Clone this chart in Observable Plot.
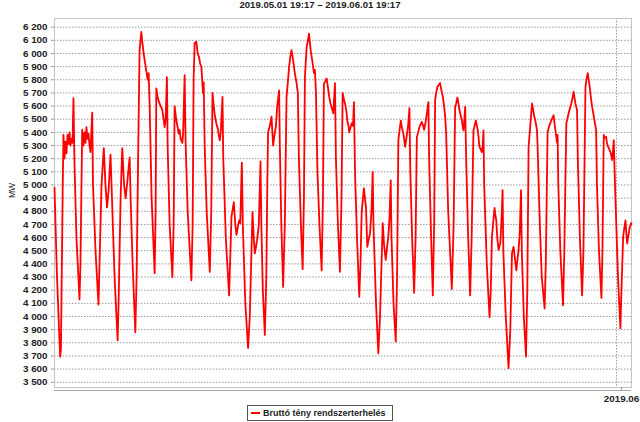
<!DOCTYPE html>
<html><head><meta charset="utf-8">
<script src="https://cdn.jsdelivr.net/npm/d3@7"></script>
<script src="https://cdn.jsdelivr.net/npm/@observablehq/plot@0.6"></script>
<style>
body{margin:0;background:#fff;width:640px;height:422px;overflow:hidden;font-family:"Liberation Sans",Arial,sans-serif;}
#title{height:10px;line-height:10px;font-weight:bold;font-size:9.6px;text-align:center;color:#222;white-space:nowrap;}
#chart svg{display:block;}
#legend{position:relative;margin-left:247px;width:146px;height:16px;border:1px solid #555;box-sizing:border-box;}
#legend .sw{position:absolute;left:3px;top:6px;width:9px;height:2px;background:#ff0000;}
#legend .tx{position:absolute;left:15px;top:2px;font-weight:bold;font-size:9px;line-height:10px;color:#222;white-space:nowrap;}
</style>
</head><body>
<div id="title"></div>
<div id="chart"></div>
<div id="legend"><span class="sw"></span><span class="tx"></span></div>
<script>
const titleText = "2019.05.01 19:17 – 2019.06.01 19:17";
const seriesName = "Bruttó tény rendszerterhelés";
const yLabel = "MW";
const startStamp = "05-01 19:17";
const endStamp = "06-01 19:17";
const xTickStamps = ["06-01 00:00"];
const xTickLabels = ["2019.06"];
const yTicks = [3500,3600,3700,3800,3900,4000,4100,4200,4300,4400,4500,4600,4700,4800,4900,5000,5100,5200,5300,5400,5500,5600,5700,5800,5900,6000,6100,6200];

const stamps = [
"05-01 19:17","05-01 22:30",
"05-02 02:35","05-02 03:35","05-02 05:55","05-02 06:50","05-02 08:10","05-02 09:25","05-02 10:45","05-02 12:00","05-02 13:20","05-02 14:35","05-02 15:55","05-02 17:10","05-02 18:30","05-02 19:45","05-02 21:05","05-02 23:35",
"05-03 03:30","05-03 04:45","05-03 07:00","05-03 08:40","05-03 09:55","05-03 11:15","05-03 12:30","05-03 13:50","05-03 15:05","05-03 16:25","05-03 17:40","05-03 19:55","05-03 20:55",
"05-04 00:10","05-04 04:00","05-04 05:20","05-04 07:55","05-04 10:50","05-04 13:00","05-04 15:00","05-04 16:55","05-04 19:30","05-04 20:50",
"05-05 00:45","05-05 04:40","05-05 05:55","05-05 08:30","05-05 10:40","05-05 13:00","05-05 15:00","05-05 17:35","05-05 20:10","05-05 21:25",
"05-06 00:00","05-06 03:30","05-06 05:10","05-06 07:45","05-06 09:00","05-06 11:15","05-06 12:15","05-06 14:15","05-06 15:30","05-06 16:50","05-06 18:05","05-06 19:25","05-06 20:40","05-06 22:00",
"05-07 00:30","05-07 04:25","05-07 05:40","05-07 06:35","05-07 08:15","05-07 09:35","05-07 10:50","05-07 12:10","05-07 14:20","05-07 16:00","05-07 17:20","05-07 18:35","05-07 20:15","05-07 21:10","05-07 23:45",
"05-08 03:15","05-08 04:55","05-08 06:10","05-08 08:25","05-08 10:05","05-08 11:20","05-08 12:40","05-08 13:55","05-08 16:10","05-08 17:10","05-08 19:05","05-08 20:25","05-08 23:00",
"05-09 03:45","05-09 05:25","05-09 06:40","05-09 08:00","05-09 10:10","05-09 11:55","05-09 13:35","05-09 15:10","05-09 16:40","05-09 17:40","05-09 18:45","05-09 19:40","05-09 20:55","05-09 23:30",
"05-10 03:30","05-10 05:25","05-10 07:00","05-10 08:40","05-10 09:55","05-10 11:55","05-10 14:10","05-10 15:05","05-10 16:25","05-10 17:40","05-10 19:55","05-10 20:55",
"05-11 00:10","05-11 04:25","05-11 05:55","05-11 07:30","05-11 10:30","05-11 12:25","05-11 13:55","05-11 15:40","05-11 17:20","05-11 18:50","05-11 20:50","05-11 22:05",
"05-12 01:20","05-12 04:55","05-12 07:05","05-12 10:35","05-12 12:15","05-12 13:35","05-12 14:50","05-12 16:30","05-12 18:45","05-12 20:55","05-12 22:00","05-12 23:55",
"05-13 02:30","05-13 04:25","05-13 05:40","05-13 06:40","05-13 08:55","05-13 11:05","05-13 13:10","05-13 15:25","05-13 16:40","05-13 18:20","05-13 20:55","05-13 21:50","05-13 23:45",
"05-14 02:05","05-14 04:15","05-14 06:30","05-14 08:10","05-14 09:50","05-14 11:25","05-14 12:55","05-14 15:00","05-14 17:10","05-14 19:25","05-14 21:05","05-14 22:25",
"05-15 01:00","05-15 03:15","05-15 04:55","05-15 06:10","05-15 08:25","05-15 10:05","05-15 11:25","05-15 13:35","05-15 16:10","05-15 17:50","05-15 19:05","05-15 20:25","05-15 22:20",
"05-16 00:55","05-16 03:45","05-16 05:25","05-16 06:40","05-16 08:40","05-16 10:10","05-16 11:55","05-16 13:35","05-16 15:05","05-16 16:40","05-16 18:45","05-16 20:55","05-16 22:10",
"05-17 00:45","05-17 03:20","05-17 05:20","05-17 06:50","05-17 08:30","05-17 09:50","05-17 11:45","05-17 12:45","05-17 14:20","05-17 15:20","05-17 18:30","05-17 20:10","05-17 21:25","05-17 22:45",
"05-18 01:20","05-18 04:15","05-18 05:50","05-18 07:20","05-18 09:00","05-18 10:20","05-18 11:35","05-18 12:55","05-18 14:35","05-18 16:50","05-18 18:05","05-18 20:00","05-18 21:35","05-18 22:35",
"05-19 01:50","05-19 04:50","05-19 07:00","05-19 10:30","05-19 12:10","05-19 14:20","05-19 16:00","05-19 17:40","05-19 19:15","05-19 20:50","05-19 21:50",
"05-20 00:25","05-20 03:20","05-20 05:00","05-20 06:40","05-20 08:15","05-20 09:50","05-20 11:30","05-20 13:10","05-20 14:05","05-20 15:25","05-20 17:35","05-20 19:15","05-20 20:55","05-20 22:05",
"05-21 00:25","05-21 03:00","05-21 04:55","05-21 06:30","05-21 08:10","05-21 09:50","05-21 11:25","05-21 12:55","05-21 14:35","05-21 15:55","05-21 17:50","05-21 19:25","05-21 21:25","05-21 22:20",
"05-22 00:55","05-22 03:05","05-22 04:50","05-22 06:05","05-22 07:20","05-22 09:00","05-22 10:35","05-22 12:30","05-22 14:10","05-22 16:00","05-22 17:40","05-22 19:00","05-22 20:15","05-22 22:55",
"05-23 03:35","05-23 05:55","05-23 07:55","05-23 09:10","05-23 10:50","05-23 12:10","05-23 13:25","05-23 15:00","05-23 16:30","05-23 17:35","05-23 18:35","05-23 19:30","05-23 20:50","05-23 22:05",
"05-24 00:40","05-24 03:15","05-24 05:10","05-24 07:30","05-24 09:00","05-24 10:35","05-24 11:55","05-24 13:10","05-24 15:15","05-24 16:50","05-24 18:20","05-24 19:25","05-24 20:25","05-24 21:20",
"05-25 00:40","05-25 04:15","05-25 05:50","05-25 07:20","05-25 09:00","05-25 10:45","05-25 11:35","05-25 12:55","05-25 14:10","05-25 15:55","05-25 16:50","05-25 18:05","05-25 19:25","05-25 21:05","05-25 22:00",
"05-26 01:10","05-26 04:45","05-26 07:00","05-26 09:10","05-26 11:15","05-26 12:45","05-26 14:45","05-26 16:00","05-26 17:40","05-26 19:15","05-26 20:50","05-26 21:50",
"05-27 00:25","05-27 03:15","05-27 04:55","05-27 06:35","05-27 08:45","05-27 11:00","05-27 13:00","05-27 13:55","05-27 15:15","05-27 16:30","05-27 17:25","05-27 18:10","05-27 21:05","05-27 23:35",
"05-28 03:15","05-28 04:45","05-28 07:05","05-28 08:40","05-28 10:35","05-28 12:30","05-28 14:50","05-28 15:45","05-28 17:05","05-28 19:15","05-28 20:00","05-28 20:55","05-28 23:30",
"05-29 03:00","05-29 04:40","05-29 07:15","05-29 08:30","05-29 10:10","05-29 11:45","05-29 13:40","05-29 15:25","05-29 16:40","05-29 17:35","05-29 18:55","05-29 20:10","05-29 21:05","05-29 22:05",
"05-30 00:45","05-30 03:35","05-30 05:20","05-30 07:55","05-30 09:10","05-30 10:50","05-30 12:10","05-30 13:25","05-30 15:00","05-30 16:30","05-30 18:10","05-30 19:30","05-30 20:50","05-30 21:40","05-30 22:45",
"05-31 01:20","05-31 04:30","05-31 05:50","05-31 07:30","05-31 09:00","05-31 10:35","05-31 11:35","05-31 13:10","05-31 14:50","05-31 16:10","05-31 17:25","05-31 18:20","05-31 19:25","05-31 20:25","05-31 21:20","05-31 22:35",
"06-01 01:50","06-01 05:00","06-01 06:20","06-01 08:30","06-01 10:10","06-01 11:30","06-01 12:50","06-01 13:40","06-01 15:25","06-01 17:05","06-01 18:55","06-01 19:17"
];
const mw = [
4980,4300,
3695,3750,5000,5380,5200,5330,5240,5380,5310,5400,5300,5350,5320,5660,5150,4600,
4130,4400,5420,5300,5400,5320,5440,5350,5390,5300,5250,5550,5000,
4500,4090,4400,5000,5280,5000,4830,4950,5230,5000,
4300,3820,4100,4900,5280,5000,4900,5050,5210,4900,
4400,3880,4300,5500,6025,6164,6100,6000,5950,5900,5850,5800,5850,5600,
4900,4330,4800,5735,5670,5640,5620,5600,5570,5500,5440,5500,5820,5300,4700,
4300,4700,5600,5490,5440,5390,5420,5350,5320,5400,5835,5300,4800,
4275,4700,5800,6080,6090,6000,5975,5920,5900,5800,5700,5780,5300,4800,
4340,4800,5700,5600,5530,5470,5420,5380,5340,5400,5670,5200,
4600,4160,4450,4760,4870,4700,4620,4680,4730,4710,5170,4700,
4100,3760,4000,4795,4600,4480,4520,4580,4700,5180,4700,4200,
3860,4300,5000,5400,5450,5520,5300,5400,5440,5590,5720,5300,4700,
4225,4700,5670,5780,5900,5980,6025,5950,5850,5775,5700,5200,
4700,4360,4900,5820,6050,6100,6150,6025,5925,5850,5875,5700,5100,
4700,4350,4900,5770,5790,5810,5740,5670,5620,5590,5545,5775,5200,
4700,4340,4900,5700,5650,5620,5560,5490,5450,5400,5470,5450,5630,5100,
4600,4150,4400,4785,4900,4975,4900,4830,4530,4600,4630,4800,5100,4700,
4100,3720,4000,4710,4550,4430,4520,4605,4750,5035,4600,
4100,3810,4300,5340,5420,5490,5430,5390,5350,5290,5380,5450,5585,5100,
4600,4180,4600,5365,5400,5440,5460,5480,5450,5420,5480,5545,5630,5200,
4600,4160,4700,5645,5700,5745,5760,5775,5720,5670,5600,5520,5400,4800,
4210,4700,5595,5620,5665,5620,5570,5530,5490,5450,5415,5480,5595,5200,
4600,4160,4600,5415,5450,5490,5450,5415,5290,5270,5250,5300,5415,5000,
4400,3995,4200,4605,4720,4825,4780,4730,4600,4505,4530,4555,4700,4960,4500,
4000,3607,3900,4480,4530,4450,4350,4420,4505,4650,4960,4500,
4000,3695,4200,5290,5450,5620,5555,5520,5490,5450,5415,5300,4700,4300,
4060,4400,5400,5440,5470,5500,5530,5480,5420,5320,5380,5000,4500,
4085,4500,5470,5500,5545,5580,5620,5670,5710,5670,5620,5590,5570,5200,
4600,4160,4500,5745,5800,5850,5800,5745,5660,5595,5540,5490,5450,5415,5000,
4500,4140,4500,5380,5360,5365,5320,5290,5270,5250,5220,5190,5260,5340,5140,4900,
4300,3910,4200,4605,4680,4730,4620,4555,4620,4680,4710,4700
];

const parse = d3.utcParse("%Y-%m-%d %H:%M");
const toDate = s => parse("2019-" + s);
const data = stamps.map((s, i) => ({t: toDate(s), v: mw[i]}));
const xTicks = xTickStamps.map(toDate);
const fmtY = d => d3.format(",")(d).replace(/,/g, " ");

document.getElementById("title").textContent = titleText;
document.querySelector("#legend .tx").textContent = seriesName;

const chart = Plot.plot({
  width: 640,
  height: 395,
  marginLeft: 54,
  marginRight: 9,
  marginTop: 8,
  marginBottom: 18,
  style: {fontFamily: "'Liberation Sans', Arial, sans-serif", fontSize: "9.8px", fontWeight: "bold", color: "#222", background: "#fff", overflow: "visible"},
  x: {type: "utc", domain: [toDate(startStamp), toDate(endStamp)]},
  y: {domain: [3460, 6266]},
  marks: [
    Plot.gridY(yTicks, {stroke: "#9a9a9a", strokeOpacity: 1, strokeDasharray: "1.5,1.5"}),
    Plot.gridX(xTicks, {stroke: "#9a9a9a", strokeOpacity: 1, strokeDasharray: "1.5,1.5"}),
    Plot.frame({stroke: "#c4c4c4"}),
    Plot.axisY(yTicks, {tickFormat: fmtY, tickSize: 3, tickPadding: 4, stroke: "#999", label: null}),
    Plot.axisX(xTicks, {tickFormat: (d, i) => xTickLabels[i], tickSize: 3, tickPadding: 5, stroke: "#999", label: null, dx: 5}),
    Plot.ruleY([3460], {stroke: "#aaa", dy: 3}),
    Plot.text([yLabel], {frameAnchor: "left", rotate: -90, dx: -42, dy: -5, fontWeight: "normal", fontSize: 8.5, fill: "#222"}),
    Plot.line(data, {x: "t", y: "v", stroke: "#ff0000", strokeWidth: 1.8})
  ]
});
document.getElementById("chart").appendChild(chart);
</script>
</body></html>
